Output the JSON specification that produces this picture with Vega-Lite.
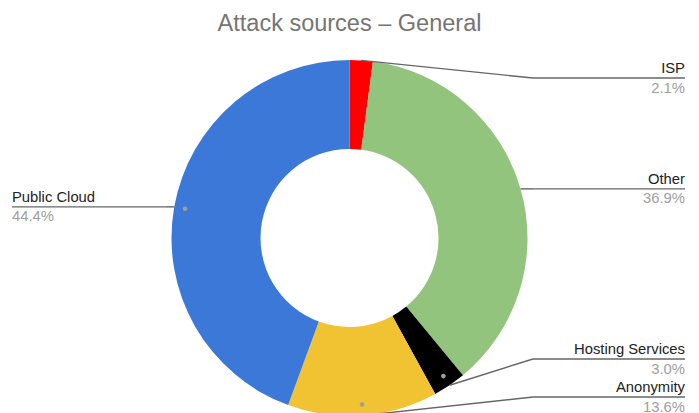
{
  "$schema": "https://vega.github.io/schema/vega-lite/v6.json",
  "width": 699,
  "height": 350,
  "autosize": {"type": "none"},
  "padding": {"top": 63, "left": 0, "right": 0, "bottom": 0},
  "title": {
    "text": "Attack sources – General",
    "font": "Liberation Sans",
    "fontSize": 23.5,
    "fontWeight": "normal",
    "color": "#757575",
    "anchor": "middle",
    "frame": "group",
    "baseline": "alphabetic",
    "offset": 5
  },
  "config": {"view": {"stroke": null}, "font": "Liberation Sans"},
  "data": {
    "values": [
      {"idx": 1, "source": "ISP", "pct": 2.1},
      {"idx": 2, "source": "Other", "pct": 36.9},
      {"idx": 3, "source": "Hosting Services", "pct": 3.0},
      {"idx": 4, "source": "Anonymity", "pct": 13.6},
      {"idx": 5, "source": "Public Cloud", "pct": 44.4}
    ]
  },
  "layer": [
    {
      "mark": {"type": "arc", "outerRadius": 178, "innerRadius": 89},
      "encoding": {
        "theta": {"field": "pct", "type": "quantitative", "stack": true},
        "order": {"field": "idx", "type": "quantitative", "sort": "ascending"},
        "color": {
          "field": "source",
          "type": "nominal",
          "scale": {
            "domain": ["ISP", "Other", "Hosting Services", "Anonymity", "Public Cloud"],
            "range": ["#ff0000", "#93c47d", "#000000", "#f1c232", "#3c78d8"]
          },
          "legend": null
        }
      }
    },
    {
      "transform": [
        {"joinaggregate": [{"op": "sum", "field": "pct", "as": "total"}]},
        {"window": [{"op": "sum", "field": "pct", "as": "cum"}], "sort": [{"field": "idx", "order": "ascending"}], "frame": [null, 0]},
        {"calculate": "2*PI*(datum.cum - datum.pct/2)/datum.total", "as": "a"},
        {"calculate": "sin(datum.a)", "as": "mx"},
        {"calculate": "cos(datum.a)", "as": "my"},
        {"calculate": "datum.mx >= 0 ? 1 : -1", "as": "side"},
        {"calculate": "178*datum.mx", "as": "ax"},
        {"calculate": "178*datum.my", "as": "ay"},
        {"calculate": "167*datum.mx", "as": "dx"},
        {"calculate": "167*datum.my", "as": "dy"},
        {"calculate": "clamp(datum.ay, -159, 160)", "as": "c"},
        {"window": [{"op": "row_number", "as": "rn"}], "groupby": ["side"], "sort": [{"field": "ay", "order": "ascending"}]},
        {"calculate": "datum.c - 38*(datum.rn - 1)", "as": "k"},
        {"window": [{"op": "max", "field": "k", "as": "kmax"}], "groupby": ["side"], "sort": [{"field": "ay", "order": "ascending"}], "frame": [null, 0]},
        {"calculate": "datum.kmax + 38*(datum.rn - 1)", "as": "ly"},
        {"calculate": "datum.side*183.5", "as": "bx"},
        {"calculate": "datum.side > 0 ? 335.5 : -337.5", "as": "ex"},
        {"calculate": "format(datum.pct, '.1f') + '%'", "as": "plabel"}
      ],
      "layer": [
        {
          "mark": {"type": "rule", "color": "#666666", "strokeWidth": 1.4},
          "encoding": {
            "x": {"field": "ax", "type": "quantitative", "scale": {"domain": [-349.5, 349.5], "nice": false, "zero": false}, "axis": null},
            "y": {"field": "ay", "type": "quantitative", "scale": {"domain": [-175, 175], "nice": false, "zero": false}, "axis": null},
            "x2": {"field": "bx"},
            "y2": {"field": "ly"}
          }
        },
        {
          "mark": {"type": "rule", "color": "#666666", "strokeWidth": 1.4},
          "encoding": {
            "x": {"field": "bx", "type": "quantitative", "scale": {"domain": [-349.5, 349.5], "nice": false, "zero": false}, "axis": null},
            "y": {"field": "ly", "type": "quantitative", "scale": {"domain": [-175, 175], "nice": false, "zero": false}, "axis": null},
            "x2": {"field": "ex"}
          }
        },
        {
          "transform": [{"filter": "datum.source != 'ISP' && datum.source != 'Other'"}],
          "mark": {"type": "point", "filled": true, "size": 22, "color": "#9e9e9e", "opacity": 1},
          "encoding": {
            "x": {"field": "dx", "type": "quantitative", "scale": {"domain": [-349.5, 349.5], "nice": false, "zero": false}, "axis": null},
            "y": {"field": "dy", "type": "quantitative", "scale": {"domain": [-175, 175], "nice": false, "zero": false}, "axis": null}
          }
        },
        {
          "transform": [{"filter": "datum.side > 0"}],
          "mark": {"type": "text", "align": "right", "baseline": "alphabetic", "dy": -5, "fontSize": 14.8, "color": "#222222"},
          "encoding": {
            "x": {"field": "ex", "type": "quantitative", "scale": {"domain": [-349.5, 349.5], "nice": false, "zero": false}, "axis": null},
            "y": {"field": "ly", "type": "quantitative", "scale": {"domain": [-175, 175], "nice": false, "zero": false}, "axis": null},
            "text": {"field": "source"}
          }
        },
        {
          "transform": [{"filter": "datum.side < 0"}],
          "mark": {"type": "text", "align": "left", "baseline": "alphabetic", "dy": -5, "fontSize": 14.8, "color": "#222222"},
          "encoding": {
            "x": {"field": "ex", "type": "quantitative", "scale": {"domain": [-349.5, 349.5], "nice": false, "zero": false}, "axis": null},
            "y": {"field": "ly", "type": "quantitative", "scale": {"domain": [-175, 175], "nice": false, "zero": false}, "axis": null},
            "text": {"field": "source"}
          }
        },
        {
          "transform": [{"filter": "datum.side > 0"}],
          "mark": {"type": "text", "align": "right", "baseline": "alphabetic", "dy": 14.5, "fontSize": 14.8, "color": "#9e9e9e"},
          "encoding": {
            "x": {"field": "ex", "type": "quantitative", "scale": {"domain": [-349.5, 349.5], "nice": false, "zero": false}, "axis": null},
            "y": {"field": "ly", "type": "quantitative", "scale": {"domain": [-175, 175], "nice": false, "zero": false}, "axis": null},
            "text": {"field": "plabel"}
          }
        },
        {
          "transform": [{"filter": "datum.side < 0"}],
          "mark": {"type": "text", "align": "left", "baseline": "alphabetic", "dy": 14.5, "fontSize": 14.8, "color": "#9e9e9e"},
          "encoding": {
            "x": {"field": "ex", "type": "quantitative", "scale": {"domain": [-349.5, 349.5], "nice": false, "zero": false}, "axis": null},
            "y": {"field": "ly", "type": "quantitative", "scale": {"domain": [-175, 175], "nice": false, "zero": false}, "axis": null},
            "text": {"field": "plabel"}
          }
        }
      ]
    }
  ]
}
